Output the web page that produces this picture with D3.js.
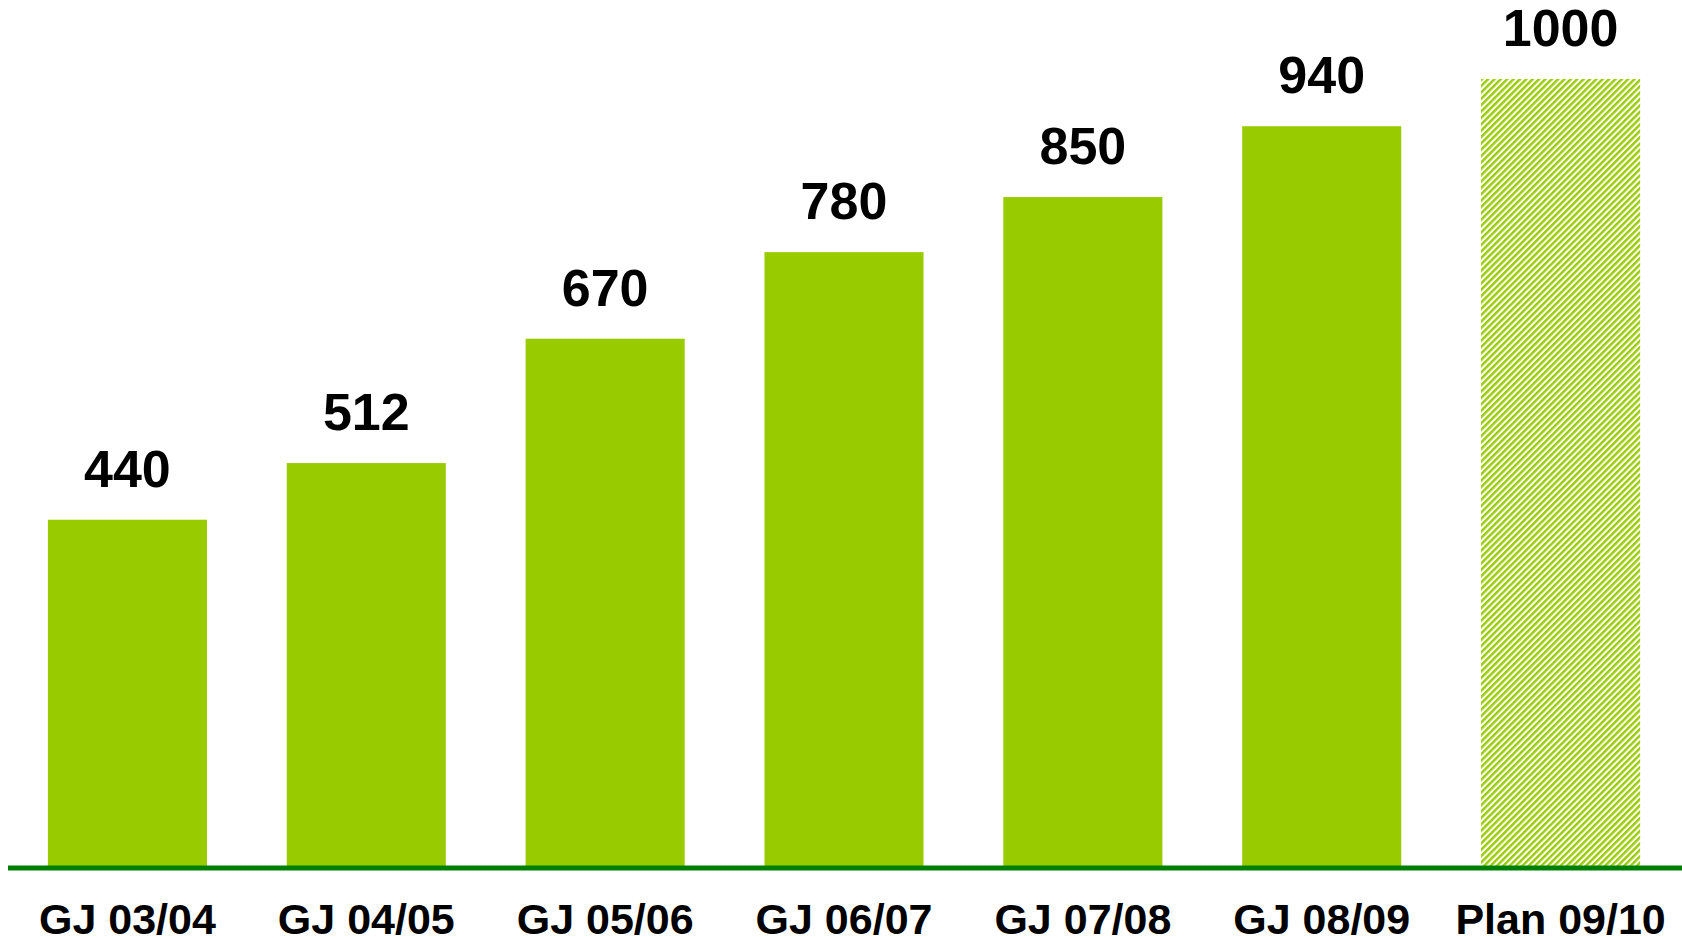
<!DOCTYPE html>
<html>
<head>
<meta charset="utf-8">
<script src="https://cdn.jsdelivr.net/npm/d3@7"></script>
<style>
  html, body { margin: 0; padding: 0; background: #fff; }
  svg { display: block; }
  text { font-family: "Liberation Sans", Arial, sans-serif; font-weight: bold; fill: #000; }
</style>
</head>
<body>
<svg id="chart" width="1682" height="939"></svg>
<script>
const categories = ["GJ 03/04", "GJ 04/05", "GJ 05/06", "GJ 06/07", "GJ 07/08", "GJ 08/09", "Plan 09/10"];
const values = [440, 512, 670, 780, 850, 940, 1000];
const planned = [false, false, false, false, false, false, true];

const W = 1682, H = 939;
const baseY = 866;
const svg = d3.select("#chart");

const defs = svg.append("defs");
const pat = defs.append("pattern")
  .attr("id", "hatch")
  .attr("patternUnits", "userSpaceOnUse")
  .attr("width", 4.5).attr("height", 4.5)
  .attr("patternTransform", "rotate(45)");
pat.append("rect").attr("width", 4.5).attr("height", 4.5).attr("fill", "#ffffff");
pat.append("rect").attr("width", 2.4).attr("height", 4.5).attr("fill", "#99cc00");

const x = d3.scaleBand()
  .domain(categories)
  .range([8, 1680])
  .paddingInner(0.334)
  .paddingOuter(0.167);

const y = d3.scaleLinear().domain([0, 1000]).range([baseY, 79]);

const data = categories.map((c, i) => ({ c, v: values[i], plan: planned[i] }));

svg.append("g").selectAll("rect")
  .data(data)
  .join("rect")
  .attr("x", d => x(d.c))
  .attr("width", x.bandwidth())
  .attr("y", d => y(d.v))
  .attr("height", d => baseY - y(d.v))
  .attr("fill", d => d.plan ? "url(#hatch)" : "#99cc00");

svg.append("g").selectAll("text")
  .data(data)
  .join("text")
  .attr("x", d => x(d.c) + x.bandwidth() / 2)
  .attr("y", d => y(d.v) - 33)
  .attr("text-anchor", "middle")
  .style("font-size", "52px")
  .text(d => d.v);

const axis = svg.append("g")
  .attr("transform", `translate(0,${baseY + 2})`)
  .call(d3.axisBottom(x).tickSize(0).tickPadding(35).tickSizeOuter(0));
axis.select(".domain")
  .attr("stroke", "#008000")
  .attr("stroke-width", 5)
  .attr("d", "M8,0H1682");
axis.selectAll(".tick text")
  .style("font-family", "'Liberation Sans', Arial, sans-serif")
  .style("font-weight", "bold")
  .style("font-size", "43px")
  .attr("fill", "#000");
</script>
</body>
</html>
